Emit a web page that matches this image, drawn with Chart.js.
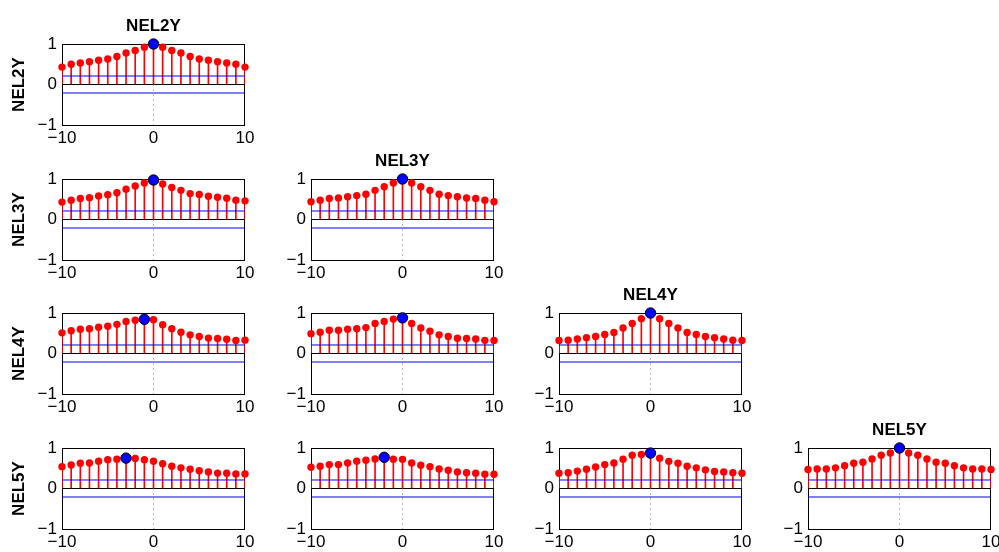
<!DOCTYPE html>
<html>
<head>
<meta charset="utf-8">
<script src="https://cdn.jsdelivr.net/npm/chart.js@4"></script>
<style>
  html, body { margin: 0; padding: 0; background: #fff; }
  body { width: 999px; height: 552px; position: relative; overflow: hidden; }
  .cell { position: absolute; }
</style>
</head>
<body>
<div id="grid"></div>
<script>
// cross-correlation stems, lags -10..10
const lags = [-10, -9, -8, -7, -6, -5, -4, -3, -2, -1, 0, 1, 2, 3, 4, 5, 6, 7, 8, 9, 10];
const varNames = ['NEL2Y', 'NEL3Y', 'NEL4Y', 'NEL5Y'];
const confBound = 0.21;
const xTicks = [-10, 0, 10];
const yTicks = [-1, 0, 1];

const nel2y_nel2y = [0.43, 0.50, 0.53, 0.56, 0.60, 0.63, 0.69, 0.78, 0.84, 0.92, 1.00, 0.92, 0.84, 0.78, 0.69, 0.63, 0.60, 0.56, 0.53, 0.50, 0.43];
const nel3y_nel2y = [0.43, 0.475, 0.52, 0.54, 0.58, 0.61, 0.66, 0.75, 0.83, 0.90, 0.975, 0.875, 0.79, 0.72, 0.64, 0.62, 0.575, 0.55, 0.525, 0.475, 0.46];
const nel3y_nel3y = [0.44, 0.475, 0.52, 0.53, 0.56, 0.59, 0.625, 0.72, 0.81, 0.90, 1.00, 0.90, 0.81, 0.72, 0.625, 0.59, 0.56, 0.53, 0.52, 0.475, 0.44];
const nel4y_nel2y = [0.51, 0.56, 0.60, 0.61, 0.65, 0.675, 0.72, 0.79, 0.82, 0.845, 0.835, 0.71, 0.61, 0.525, 0.46, 0.42, 0.38, 0.37, 0.35, 0.32, 0.33];
const nel4y_nel3y = [0.49, 0.525, 0.575, 0.575, 0.60, 0.61, 0.64, 0.74, 0.79, 0.85, 0.88, 0.74, 0.63, 0.55, 0.46, 0.42, 0.375, 0.37, 0.36, 0.325, 0.32];
const nel4y_nel4y = [0.32, 0.33, 0.36, 0.39, 0.42, 0.47, 0.52, 0.63, 0.74, 0.86, 1.00, 0.86, 0.74, 0.63, 0.52, 0.47, 0.42, 0.39, 0.36, 0.33, 0.32];
const nel5y_nel2y = [0.54, 0.58, 0.625, 0.63, 0.675, 0.71, 0.725, 0.75, 0.74, 0.71, 0.675, 0.61, 0.55, 0.51, 0.475, 0.44, 0.41, 0.38, 0.375, 0.36, 0.36];
const nel5y_nel3y = [0.525, 0.55, 0.59, 0.59, 0.63, 0.675, 0.70, 0.73, 0.77, 0.725, 0.72, 0.63, 0.575, 0.54, 0.48, 0.45, 0.41, 0.39, 0.375, 0.35, 0.35];
const nel5y_nel4y = [0.375, 0.39, 0.43, 0.475, 0.53, 0.59, 0.63, 0.725, 0.82, 0.84, 0.875, 0.75, 0.67, 0.625, 0.55, 0.51, 0.46, 0.42, 0.41, 0.39, 0.375];
const nel5y_nel5y = [0.47, 0.48, 0.48, 0.51, 0.56, 0.625, 0.65, 0.73, 0.82, 0.875, 1.00, 0.875, 0.82, 0.73, 0.65, 0.625, 0.56, 0.51, 0.48, 0.48, 0.47];

// [row][col] lower triangle
const panels = [
    [nel2y_nel2y],
    [nel3y_nel2y, nel3y_nel3y],
    [nel4y_nel2y, nel4y_nel3y, nel4y_nel4y],
    [nel5y_nel2y, nel5y_nel3y, nel5y_nel4y, nel5y_nel5y]
];

// layout of plot areas on the page
const colLeft = [62, 311, 559, 808];
const rowTop = [44, 179, 313, 448];
const plotW = 183, plotH = 81;
const padL = 62, padR = 10, padT = 40, padB = 25;

const FONT = "'Liberation Sans', Arial, Helvetica, sans-serif";
const minus = v => String(v).replace('-', '\u2212');

const frame = {
    id: 'frame',
    beforeDatasetsDraw(chart) {
        const a = chart.chartArea, ctx = chart.ctx;
        ctx.save();
        ctx.strokeStyle = '#000';
        ctx.lineWidth = 1;
        ctx.strokeRect(Math.round(a.left) + 0.5, Math.round(a.top) + 0.5, Math.round(a.right - a.left) - 1, Math.round(a.bottom - a.top));
        ctx.restore();
    }
};

function makePanel(r, c, vals) {
    const wrap = document.createElement('div');
    wrap.className = 'cell';
    wrap.style.left = (colLeft[c] - padL) + 'px';
    wrap.style.top = (rowTop[r] - padT) + 'px';
    const cv = document.createElement('canvas');
    cv.width = padL + plotW + padR;
    cv.height = padT + plotH + padB;
    wrap.appendChild(cv);
    document.getElementById('grid').appendChild(wrap);

    const pts = lags.map((x, i) => ({ x, y: vals[i] }));
    let best = 0;
    vals.forEach((v, i) => { if (v > vals[best]) best = i; });

    new Chart(cv, {
        type: 'line',
        data: {
            datasets: [
                { data: [pts[best]], showLine: false, clip: false, pointRadius: 5.2, pointBackgroundColor: '#0000ff', pointBorderColor: '#000', pointBorderWidth: 1, order: 0 },
                { data: pts, showLine: false, clip: false, pointRadius: 3.7, pointBackgroundColor: '#ff0000', pointBorderWidth: 0, order: 1 },
                { data: [{ x: -10, y: confBound }, { x: 10, y: confBound }], borderColor: '#0000ff', borderWidth: 1, pointRadius: 0, order: 2 },
                { data: [{ x: -10, y: -confBound }, { x: 10, y: -confBound }], borderColor: '#0000ff', borderWidth: 1, pointRadius: 0, order: 2 },
                { data: [{ x: 0, y: 0 }, { x: 0, y: -1 }], borderColor: '#777', borderWidth: 1, borderDash: [1, 4], pointRadius: 0, order: 3 },
                { type: 'bar', data: pts, backgroundColor: '#ff0000', barThickness: 1, order: 4 }
            ]
        },
        options: {
            responsive: false,
            animation: false,
            devicePixelRatio: 1,
            layout: { padding: { left: 0, right: padR, top: 0, bottom: 0 } },
            plugins: {
                legend: { display: false },
                tooltip: { enabled: false },
                title: {
                    display: true,
                    fullSize: false,
                    text: r === c ? varNames[r] : ' ',
                    color: '#000',
                    font: { family: FONT, size: 17, weight: 'bold' },
                    padding: { top: 12, bottom: 7.6 }
                }
            },
            scales: {
                x: {
                    type: 'linear', min: -10, max: 10, offset: false,
                    afterBuildTicks: s => { s.ticks = xTicks.map(v => ({ value: v })); },
                    afterFit: s => { s.height = padB; s.paddingLeft = 0; s.paddingRight = 0; },
                    grid: { display: false, drawTicks: false },
                    border: { display: false },
                    ticks: { color: '#000', padding: 3.5, maxRotation: 0, autoSkip: false, font: { family: FONT, size: 17 }, callback: v => minus(v) }
                },
                y: {
                    type: 'linear', min: -1, max: 1,
                    afterBuildTicks: s => { s.ticks = yTicks.map(v => ({ value: v })); },
                    afterFit: s => { s.width = padL; s.paddingTop = 0; s.paddingBottom = 0; },
                    grid: { drawTicks: false, color: ctx => ctx.tick && ctx.tick.value === 0 ? '#000' : 'rgba(0,0,0,0)' },
                    border: { display: false },
                    ticks: { color: '#000', padding: 5, font: { family: FONT, size: 17 }, callback: v => minus(v) },
                    title: {
                        display: c === 0,
                        text: varNames[r],
                        color: '#000',
                        font: { family: FONT, size: 17, weight: 'bold' },
                        padding: { top: 9.5, bottom: 0 }
                    }
                }
            }
        },
        plugins: [frame]
    });
}

panels.forEach((row, r) => row.forEach((vals, c) => makePanel(r, c, vals)));
</script>
</body>
</html>
